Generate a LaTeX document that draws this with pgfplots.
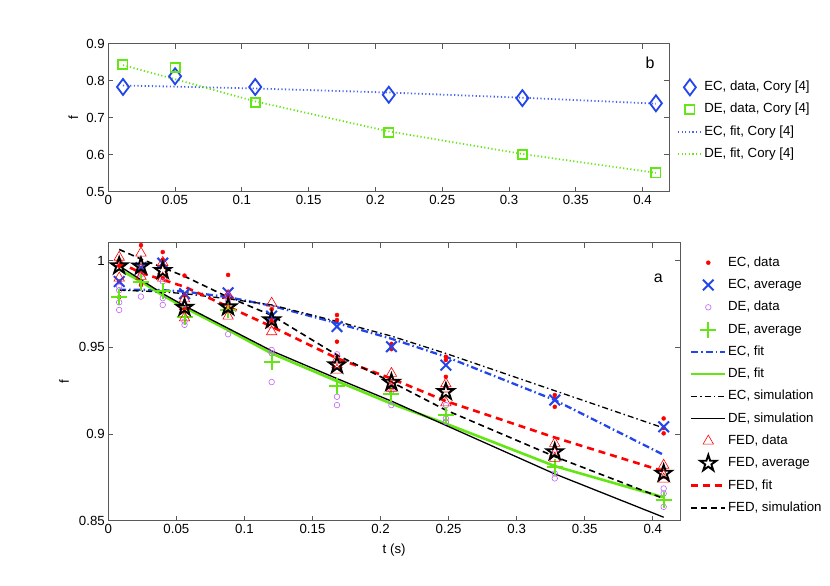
\documentclass[border=0pt]{standalone}
\usepackage{fontspec}
\setmainfont{Liberation Sans}
\usepackage{pgfplots}
\pgfplotsset{compat=1.18}
\usetikzlibrary{plotmarks}
\definecolor{mblue}{RGB}{35,70,235}
\definecolor{mlblue}{RGB}{70,100,240}
\definecolor{mgreen}{RGB}{100,230,20}
\definecolor{mpurple}{RGB}{190,100,250}
\definecolor{mred}{RGB}{255,0,0}
\pgfdeclareplotmark{pentagram}{%
  \pgfpathmoveto{\pgfpointpolar{90}{\pgfplotmarksize}}%
  \pgfpathlineto{\pgfpointpolar{126}{0.382\pgfplotmarksize}}%
  \pgfpathlineto{\pgfpointpolar{162}{\pgfplotmarksize}}%
  \pgfpathlineto{\pgfpointpolar{198}{0.382\pgfplotmarksize}}%
  \pgfpathlineto{\pgfpointpolar{234}{\pgfplotmarksize}}%
  \pgfpathlineto{\pgfpointpolar{270}{0.382\pgfplotmarksize}}%
  \pgfpathlineto{\pgfpointpolar{306}{\pgfplotmarksize}}%
  \pgfpathlineto{\pgfpointpolar{342}{0.382\pgfplotmarksize}}%
  \pgfpathlineto{\pgfpointpolar{18}{\pgfplotmarksize}}%
  \pgfpathlineto{\pgfpointpolar{54}{0.382\pgfplotmarksize}}%
  \pgfpathclose
  \pgfusepathqstroke
}
\newcommand{\lfont}{\fontsize{13.3}{15}\selectfont}
\pgfplotsset{
  myaxis/.style={
    scale only axis, clip=false,
    xmin=0, xmax=0.42,
    xtick={0,0.05,0.1,0.15,0.2,0.25,0.3,0.35,0.4},
    scaled ticks=false,
    tick align=inside, major tick length=5bp,
    axis line style={black!65, line width=0.8bp},
    tick style={black!65, line width=0.8bp},
    tick label style={font=\lfont, black},
    label style={font=\lfont},
    /pgf/number format/fixed,
    /pgf/number format/precision=2,
    /pgf/number format/assume math mode=true,
    legend cell align=left,
  },
  bline/.style={legend image code/.code={\draw[##1] (0bp,0bp) -- (34bp,0bp);}},
  bmark/.style={only marks, legend image code/.code={\draw[##1] plot coordinates {(17bp,0bp)};}},
  tline/.style={legend image code/.code={\draw[##1] (0bp,0bp) -- (24bp,0bp);}},
  tmark/.style={only marks, legend image code/.code={\draw[##1] plot coordinates {(12bp,0bp)};}},
}
\begin{document}
\begin{tikzpicture}
\path[use as bounding box] (0,0) rectangle (830bp,586bp);
% ---------------- top panel (b) ----------------
\begin{axis}[myaxis,
  at={(108.3bp,394.3bp)}, anchor=south west,
  width=561bp, height=148bp,
  ymin=0.5, ymax=0.9, ytick={0.5,0.6,0.7,0.8,0.9},
  ylabel={f},
  ylabel style={at={(axis description cs:-0.0624,0.5)}, anchor=center},
  legend style={at={(1,1)}, anchor=north west, xshift=7.7bp, yshift=-32.5bp,
    draw=none, fill=none, inner sep=0pt, outer sep=0pt, row sep=0pt, column sep=0pt,
    nodes={inner xsep=1.5bp, inner ysep=0pt, minimum height=22.2bp, text height=9.6bp, text depth=2.6bp},
    font=\lfont},
]
\addplot[tmark, color=mblue, mark=diamond, mark size=8bp, line width=1.8bp] coordinates {
(0.011,0.783)(0.05,0.812)(0.11,0.783)(0.21,0.762)(0.31,0.753)(0.41,0.739)};
\addlegendentry{EC, data, Cory [4]}
\addplot[tmark, color=mgreen, mark=square, mark size=4.6bp, line width=1.8bp] coordinates {
(0.011,0.843)(0.05,0.835)(0.11,0.741)(0.21,0.660)(0.31,0.601)(0.41,0.551)};
\addlegendentry{DE, data, Cory [4]}
\addplot[tline, color=mlblue, line width=1.8bp, dash pattern=on 1.2bp off 2.4bp] coordinates {
(0.011,0.787)(0.05,0.784)(0.11,0.779)(0.21,0.768)(0.31,0.754)(0.41,0.738)};
\addlegendentry{EC, fit, Cory [4]}
\addplot[tline, color=mgreen, line width=1.8bp, dash pattern=on 1.2bp off 2.4bp] coordinates {
(0.011,0.842)(0.05,0.804)(0.11,0.744)(0.21,0.663)(0.31,0.602)(0.41,0.551)};
\addlegendentry{DE, fit, Cory [4]}
\node[font=\fontsize{16}{18}\selectfont] at (rel axis cs:0.9656,0.8696) {b};
\end{axis}
% ---------------- bottom panel (a) ----------------
\begin{axis}[myaxis,
  at={(108.3bp,65.3bp)}, anchor=south west,
  width=571.7bp, height=278bp,
  ymin=0.85, ymax=1.0104, ytick={0.85,0.9,0.95,1},
  xlabel={t (s)}, ylabel={f},
  ylabel style={at={(axis description cs:-0.0775,0.5)}, anchor=center},
  xlabel style={yshift=-3bp},
  legend style={at={(1,1)}, anchor=north west, xshift=10bp, yshift=-8.85bp,
    draw=none, fill=none, inner sep=0pt, outer sep=0pt, row sep=0pt, column sep=0pt,
    nodes={inner xsep=1.5bp, inner ysep=0pt, minimum height=22.3bp, text height=9.6bp, text depth=2.6bp},
    font=\lfont},
]
% EC, data
\addplot[bmark, color=mred, mark=*, mark size=2bp] coordinates {
(0.008,0.997)(0.008,0.988)(0.008,0.979)
(0.024,1.009)(0.024,0.995)(0.024,0.986)
(0.04,1.005)(0.04,1.0005)(0.04,0.990)
(0.056,0.9914)(0.056,0.980)(0.056,0.972)
(0.088,0.9918)(0.088,0.980)(0.088,0.973)
(0.12,0.972)(0.12,0.967)(0.12,0.965)
(0.168,0.9687)(0.168,0.9658)(0.168,0.9533)
(0.208,0.952)(0.208,0.950)(0.208,0.949)
(0.248,0.9446)(0.248,0.9427)(0.248,0.933)
(0.328,0.9225)(0.328,0.9205)(0.328,0.9157)
(0.408,0.909)(0.408,0.9035)(0.408,0.9004)};
\addlegendentry{EC, data}
% EC, average
\addplot[bmark, color=mblue, mark=x, mark size=7.5bp, line width=2bp] coordinates {
(0.008,0.988)(0.024,0.996)(0.04,0.9986)(0.056,0.981)(0.088,0.9815)(0.12,0.968)
(0.168,0.962)(0.208,0.9504)(0.248,0.9398)(0.328,0.9196)(0.408,0.9042)};
\addlegendentry{EC, average}
% DE, data
\addplot[bmark, color=mpurple, mark=o, mark size=2.8bp, line width=0.6bp] coordinates {
(0.008,0.985)(0.008,0.983)(0.008,0.976)(0.008,0.9716)
(0.024,0.993)(0.024,0.992)(0.024,0.9793)
(0.04,0.988)(0.04,0.9784)(0.04,0.9745)
(0.056,0.975)(0.056,0.9649)(0.056,0.963)
(0.088,0.980)(0.088,0.977)(0.088,0.9576)
(0.12,0.9466)(0.12,0.9485)(0.12,0.930)
(0.168,0.946)(0.168,0.9215)(0.168,0.9167)
(0.208,0.927)(0.208,0.925)(0.208,0.9167)
(0.248,0.9167)(0.248,0.909)(0.248,0.907)
(0.328,0.891)(0.328,0.8773)(0.328,0.8744)
(0.408,0.8686)(0.408,0.8657)(0.408,0.858)};
\addlegendentry{DE, data}
% DE, average
\addplot[bmark, color=mgreen, mark=+, mark size=8bp, line width=2bp] coordinates {
(0.008,0.9793)(0.024,0.988)(0.04,0.9825)(0.056,0.9677)(0.088,0.9716)(0.12,0.9417)
(0.168,0.928)(0.208,0.923)(0.248,0.911)(0.328,0.881)(0.408,0.8618)};
\addlegendentry{DE, average}
% EC, fit
\addplot[bline, color=mblue, line width=2.3bp, dash pattern=on 7bp off 3bp on 1.5bp off 3bp] coordinates {
(0.008,0.9832)(0.024,0.9832)(0.04,0.983)(0.056,0.9822)(0.088,0.979)(0.12,0.974)
(0.168,0.964)(0.208,0.955)(0.248,0.9446)(0.328,0.9196)(0.408,0.888)};
\addlegendentry{EC, fit}
% DE, fit
\addplot[bline, color=mgreen, line width=2.6bp] coordinates {
(0.008,0.995)(0.024,0.988)(0.04,0.980)(0.056,0.973)(0.088,0.960)(0.12,0.9465)
(0.168,0.9305)(0.208,0.9175)(0.248,0.906)(0.328,0.8815)(0.408,0.8635)};
\addlegendentry{DE, fit}
% EC, simulation
\addplot[bline, color=black, line width=1.3bp, dash pattern=on 6bp off 3bp on 1.5bp off 3bp] coordinates {
(0.008,0.983)(0.024,0.9825)(0.04,0.982)(0.056,0.981)(0.088,0.978)(0.12,0.9745)
(0.168,0.965)(0.208,0.9565)(0.248,0.9465)(0.328,0.925)(0.408,0.9035)};
\addlegendentry{EC, simulation}
% DE, simulation
\addplot[bline, color=black, line width=1.3bp] coordinates {
(0.008,0.997)(0.024,0.989)(0.04,0.981)(0.056,0.974)(0.088,0.961)(0.12,0.948)
(0.168,0.932)(0.208,0.919)(0.248,0.905)(0.328,0.877)(0.408,0.852)};
\addlegendentry{DE, simulation}
% FED, data
\addplot[bmark, color=mred, mark=triangle, mark size=6bp, line width=0.6bp] coordinates {
(0.008,1.002)(0.008,0.999)(0.008,0.990)
(0.024,1.0044)(0.024,0.995)(0.024,0.991)
(0.04,0.999)(0.04,0.994)(0.04,0.990)
(0.056,0.978)(0.056,0.9735)(0.056,0.967)
(0.088,0.980)(0.088,0.9718)(0.088,0.968)
(0.12,0.9755)(0.12,0.959)(0.12,0.963)
(0.168,0.9427)(0.168,0.9369)(0.168,0.940)
(0.208,0.935)(0.208,0.9264)(0.208,0.928)
(0.248,0.929)(0.248,0.926)(0.248,0.918)
(0.328,0.8946)(0.328,0.889)(0.328,0.886)
(0.408,0.882)(0.408,0.876)(0.408,0.874)};
\addlegendentry{FED, data}
% FED, average
\addplot[bmark, color=black, mark=pentagram, mark size=8.5bp, line width=1.9bp] coordinates {
(0.008,0.997)(0.024,0.9968)(0.04,0.9943)(0.056,0.973)(0.088,0.9733)(0.12,0.9658)
(0.168,0.9398)(0.208,0.9298)(0.248,0.9244)(0.328,0.8897)(0.408,0.8773)};
\addlegendentry{FED, average}
% FED, fit
\addplot[bline, color=mred, line width=2.6bp, dash pattern=on 7bp off 5bp] coordinates {
(0.008,0.999)(0.024,0.993)(0.04,0.989)(0.056,0.985)(0.088,0.9735)(0.12,0.962)
(0.168,0.9437)(0.208,0.932)(0.248,0.919)(0.328,0.898)(0.408,0.8785)};
\addlegendentry{FED, fit}
% FED, simulation
\addplot[bline, color=black, line width=1.6bp, dash pattern=on 6bp off 4bp] coordinates {
(0.008,1.0065)(0.024,1.001)(0.04,0.996)(0.056,0.991)(0.088,0.979)(0.12,0.9685)
(0.168,0.9456)(0.208,0.930)(0.248,0.9138)(0.328,0.887)(0.408,0.8628)};
\addlegendentry{FED, simulation}
\node[font=\fontsize{16}{18}\selectfont] at (rel axis cs:0.962,0.872) {a};
\end{axis}
\end{tikzpicture}
\end{document}
